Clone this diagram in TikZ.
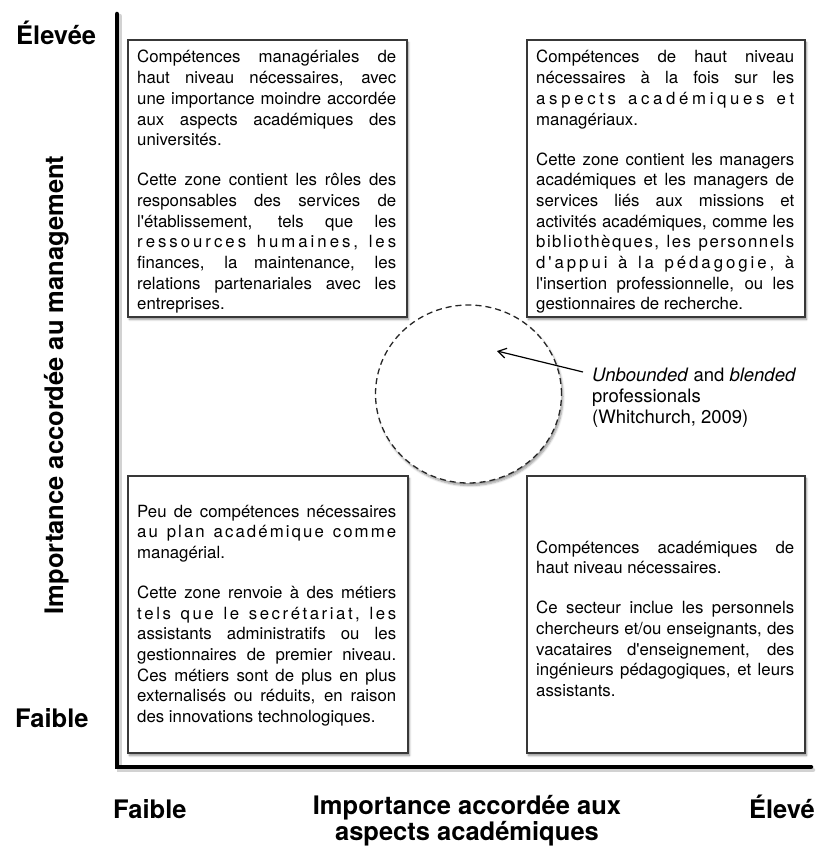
\documentclass[tikz,border=0pt]{standalone}
\usepackage{fontspec}
\setmainfont{TeX Gyre Heros}
\usetikzlibrary{arrows.meta,shadows.blur,shapes.geometric}

\def\LSend{\LSend}
\newcommand\LS[1]{\hbox to\hsize{\LSfirst#1\LSend}}
\def\LSfirst#1{#1\LSnext}
\def\LSnext#1{\ifx#1\LSend\else\ifx#1~\ \hfil\else\hfil#1\fi\expandafter\LSnext\fi}
\newcommand\J[1]{\hbox to\hsize{#1}}
\newcommand\E[1]{\hbox{#1}}
\newcommand\PS{\vskip 19.3pt}
\newcommand\aq{\textquotesingle}

\tikzset{
  quadbox/.style={draw=black!78, line width=1.8pt, fill=white, inner sep=0pt,
    anchor=north west,
    blur shadow={shadow xshift=1.5pt, shadow yshift=-2.5pt, shadow opacity=45, shadow blur steps=6}},
  boxtext/.style={anchor=base west, inner sep=0pt, font=\fontsize{16.8}{20.7}\selectfont},
  axislabel/.style={inner sep=0pt, font=\fontsize{25.5}{26}\selectfont\bfseries},
  axisline/.style={line width=4.5pt, line cap=round, line join=miter},
}

\begin{document}
\begin{tikzpicture}[x=1pt,y=1pt]
\useasboundingbox (0,0) rectangle (817,-848);

% axes (shadow then line)
\draw[axisline, black!25, opacity=0.7] (119.5,-16) -- (119.5,-770) -- (813,-770);
\draw[axisline, black] (117,-14) -- (117,-767) -- (811,-767);

% quadrant boxes
\node[quadbox, minimum width=279pt, minimum height=277pt] (tl) at (127,-39) {};
\node[quadbox, minimum width=278pt, minimum height=277pt] (tr) at (526,-39) {};
\node[quadbox, minimum width=280pt, minimum height=277pt] (bl) at (127,-475) {};
\node[quadbox, minimum width=278pt, minimum height=277pt] (br) at (526,-475) {};

% texts
\node[boxtext] (tltext) at (137,-63) {\parbox[t]{259pt}{%
\J{Compétences managériales de}
\J{haut niveau nécessaires, avec}
\J{une importance moindre accordée}
\J{aux aspects académiques des}
\E{universités.}
\PS
\J{Cette zone contient les rôles des}
\J{responsables des services de}
\J{l\aq établissement, tels que les}
\LS{ressources~humaines,~les}
\J{finances, la maintenance, les}
\J{relations partenariales avec les}
\E{entreprises.}}};

\node[boxtext] (trtext) at (536,-63) {\parbox[t]{258pt}{%
\J{Compétences de haut niveau}
\J{nécessaires à la fois sur les}
\LS{aspects~académiques~et}
\E{managériaux.}
\PS
\J{Cette zone contient les managers}
\J{académiques et les managers de}
\J{services liés aux missions et}
\J{activités académiques, comme les}
\LS{bibliothèques,~les~personnels}
\LS{d\aq appui~à~la~pédagogie,~à}
\J{l\aq insertion professionnelle, ou les}
\E{gestionnaires de recherche.}}};

\node[boxtext] (bltext) at (137,-517) {\parbox[t]{259pt}{%
\J{Peu de compétences nécessaires}
\LS{au~plan~académique~comme}
\E{managérial.}
\PS
\J{Cette zone renvoie à des métiers}
\LS{tels~que~le~secrétariat,~les}
\J{assistants administratifs ou les}
\J{gestionnaires de premier niveau.}
\J{Ces métiers sont de plus en plus}
\J{externalisés ou réduits, en raison}
\E{des innovations technologiques.}}};

\node[boxtext] (brtext) at (536,-553) {\parbox[t]{258pt}{%
\J{Compétences académiques de}
\E{haut niveau nécessaires.}
\PS
\J{Ce secteur inclue les personnels}
\J{chercheurs et/ou enseignants, des}
\J{vacataires d\aq enseignement, des}
\J{ingénieurs pédagogiques, et leurs}
\E{assistants.}}};

% blended zone
\node[ellipse, draw=black!85, dashed, dash pattern=on 6pt off 4pt, line width=1.3pt,
  fill=white, minimum width=186pt, minimum height=178pt, inner sep=0pt,
  blur shadow={shadow xshift=1.5pt, shadow yshift=-2.5pt, shadow opacity=40, shadow blur steps=6}]
  (blend) at (468.5,-394) {};

\node[anchor=base west, inner sep=0pt, font=\fontsize{18.5}{21}\selectfont] (lbl) at (592,-381)
  {\parbox[t]{225pt}{\raggedright\textit{Unbounded} and \textit{blended}\\professionals\\(Whitchurch, 2009)}};
\coordinate (arrS) at (583,-372);
\coordinate (arrE) at (497,-351);
\draw[line width=1.2pt, -{Straight Barb[length=8pt,width=10pt]}] (arrS) -- (arrE);

% axis labels
\node[axislabel, anchor=base west] (yhigh) at (16,-45) {Élevée};
\node[axislabel, anchor=base west] (ylow) at (15,-727) {Faible};
\node[axislabel, rotate=90, anchor=base] (ylab) at (63,-385) {Importance accordée au management};
\node[axislabel, anchor=base west] (xlow) at (113,-818) {Faible};
\node[axislabel, anchor=base] (xlab) at (467,-814)
  {\parbox[t]{420pt}{\centering Importance accordée aux\\aspects académiques}};
\node[axislabel, anchor=base east] (xhigh) at (815,-818) {Élevé};
\end{tikzpicture}
\end{document}
